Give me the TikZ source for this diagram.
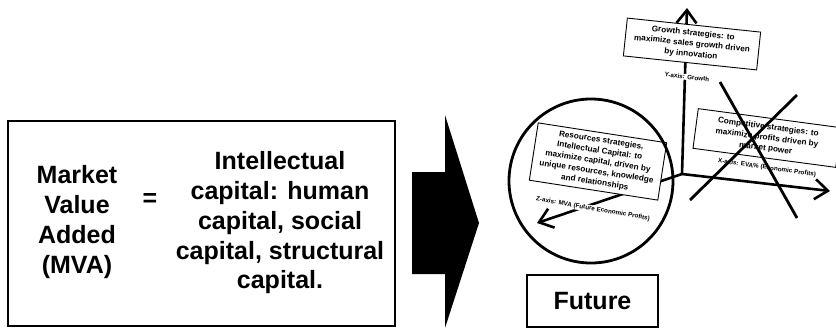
\documentclass[tikz,border=0pt]{standalone}
\usepackage{fontspec}
\setmainfont{Liberation Sans}
\usetikzlibrary{arrows.meta}

\begin{document}
\begin{tikzpicture}[x=1pt, y=-1pt,
    strategy/.style={draw, fill=white, line width=0.9pt, align=center, inner sep=0pt,
      font=\fontsize{8.2}{10.6}\selectfont\bfseries},
    axislabel/.style={fill=white, inner sep=0.6pt, font=\fontsize{6.3}{7}\selectfont\bfseries},
    axis/.style={line width=2.6pt, -{Straight Barb[length=13pt, width=20pt]}},
    big/.style={align=center, font=\fontsize{25}{29.75}\selectfont\bfseries}]
    \useasboundingbox (0,0) rectangle (836,330);

    % Market value added = intellectual capital
    \node[draw, line width=2.2pt, minimum width=387pt, minimum height=205pt] (mvabox) at (201.5,223.5) {};
    \node[big] (mva) at (77,222) {Market\\Value\\Added\\(MVA)};
    \node[big] (equals) at (150,200) {=};
    \node[big] (ic) at (280,223) {Intellectual\\capital: human\\capital, social\\capital, structural\\capital.};

    % Big arrow to the future
    \fill (412,172) -- (445,172) -- (445,115) -- (479,223) -- (445,328) -- (445,274) -- (412,274) -- cycle;

    % Axes
    \coordinate (origin) at (682,174);
    \coordinate (ytip) at (687,8);
    \coordinate (xtip) at (830,191);
    \coordinate (ztip) at (537,223);
    \draw[axis] (origin) -- (ytip);
    \draw[axis] (origin) -- (xtip);
    \draw[axis] (origin) -- (ztip);

    % Strategy boxes and axis labels
    \node[strategy, rotate=-6, minimum width=134pt, minimum height=38pt] (growth) at (692,44)
      {Growth strategies: to\\maximize sales growth driven\\by innovation};
    \node[axislabel, rotate=-6] (ylabel) at (687,77) {Y-axis: Growth};
    \node[strategy, rotate=-7.6, minimum width=144pt, minimum height=40pt] (competitive) at (767,138)
      {Competitive strategies: to\\maximize profits driven by\\market power};
    \node[axislabel, rotate=-8] (xlabel) at (767,168) {X-axis: EVA\% (Economic Profits)};
    \node[strategy, rotate=-8.8, minimum width=130pt, minimum height=58pt] (resources) at (598,161.5)
      {Resources strategies,\\Intellectual Capital: to\\maximize capital, driven by\\unique resources, knowledge\\and relationships};
    \node[axislabel, rotate=-10] (zlabel) at (593,209) {Z-axis: MVA (Future Economic Profits)};

    % Circle round the Z-axis
    \draw[line width=2.8pt] (591,181) circle[radius=82];

    % Crossed out
    \draw[line width=2.8pt] (720,82) -- (797,218);
    \draw[line width=2.8pt] (797,95) -- (690,200);

    % Future
    \node[draw, line width=2.8pt, minimum width=131pt, minimum height=52pt,
      font=\fontsize{25}{30}\selectfont\bfseries] (future) at (592.5,301) {Future};
\end{tikzpicture}
\end{document}
